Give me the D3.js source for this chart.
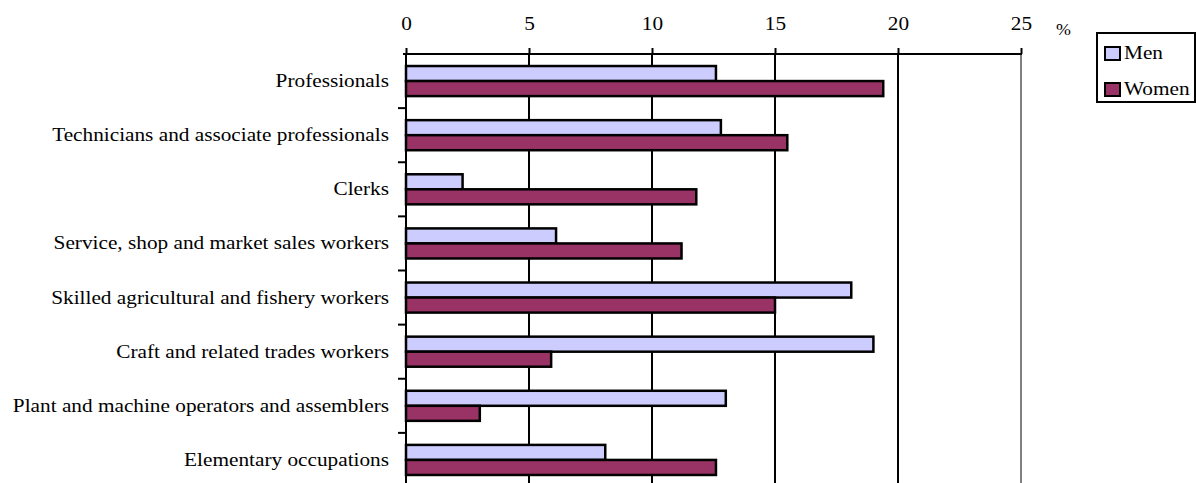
<!DOCTYPE html>
<html>
<head>
<meta charset="utf-8">
<script src="https://cdn.jsdelivr.net/npm/d3@7"></script>
<style>
  html, body { margin: 0; padding: 0; background: #fff; }
  svg { display: block; }
</style>
</head>
<body>
<svg id="chart" width="1196" height="483"></svg>
<script>
const categories = [
  "Professionals",
  "Technicians and associate professionals",
  "Clerks",
  "Service, shop and market sales workers",
  "Skilled agricultural and fishery workers",
  "Craft and related trades workers",
  "Plant and machine operators and assemblers",
  "Elementary occupations"
];
const seriesNames = ["Men", "Women"];
const menValues   = [12.6, 12.8, 2.3, 6.1, 18.1, 19.0, 13.0, 8.1];
const womenValues = [19.4, 15.5, 11.8, 11.2, 15.0, 5.9, 3.0, 12.6];
const xTicks = [0, 5, 10, 15, 20, 25];
const unitLabel = "%";
const colors = { Men: "#CCCCFF", Women: "#993366" };

(function () {
const FONT = '"Liberation Serif"';
const data = categories.map((c, i) => ({ cat: c, Men: menValues[i], Women: womenValues[i] }));

const svg = d3.select("#chart");
const pLeft = 406, pRight = 1021, pTop = 54, pBottom = 487;
const sx = 1.12; // horizontal stretch of the reference text

const x = d3.scaleLinear().domain([0, 25]).range([pLeft, pRight]);
const y0 = d3.scaleBand().domain(categories).range([pTop, pBottom]).padding(0);
const y1 = d3.scaleBand().domain(seriesNames).range([0, y0.bandwidth()]).paddingInner(0).paddingOuter(0.8);

// gridlines
svg.append("g").selectAll("line").data(xTicks.filter(t => t > 0)).join("line")
  .attr("x1", d => x(d)).attr("x2", d => x(d))
  .attr("y1", pTop).attr("y2", pBottom)
  .attr("stroke", d => d === 25 ? "#808080" : "#000")
  .attr("stroke-width", 2);

// top axis
const xAxis = d3.axisTop(x).tickValues(xTicks).tickSize(6).tickSizeOuter(0).tickPadding(0);
const gx = svg.append("g").attr("transform", `translate(0,${pTop})`).call(xAxis);
gx.select(".domain").remove();
gx.selectAll(".tick line").attr("stroke", "#000").attr("stroke-width", 2);
gx.selectAll(".tick text").remove();
gx.selectAll(".tick").append("text")
  .attr("transform", `translate(0,-24) scale(${sx},1)`)
  .attr("text-anchor", "middle")
  .attr("fill", "#000")
  .style("font-family", FONT)
  .style("font-size", "19px")
  .text(d => d);
svg.append("line").attr("x1", pLeft - 3).attr("x2", pRight + 1)
  .attr("y1", pTop).attr("y2", pTop).attr("stroke", "#000").attr("stroke-width", 2);

svg.append("text")
  .attr("transform", `translate(${x(25) + 35},35) scale(${sx},1)`)
  .attr("text-anchor", "start")
  .style("font-family", FONT)
  .style("font-size", "16px")
  .text(unitLabel);

// bars
const groups = svg.append("g").selectAll("g").data(data).join("g")
  .attr("transform", d => `translate(0,${y0(d.cat)})`);
groups.selectAll("rect").data(d => seriesNames.map(s => ({ s, v: d[s] }))).join("rect")
  .attr("x", x(0))
  .attr("y", d => y1(d.s))
  .attr("width", d => x(d.v) - x(0))
  .attr("height", y1.bandwidth())
  .attr("fill", d => colors[d.s])
  .attr("stroke", "#000")
  .attr("stroke-width", 2.5);

// left axis
svg.append("line").attr("x1", pLeft).attr("x2", pLeft).attr("y1", pTop - 1).attr("y2", pBottom)
  .attr("stroke", "#000").attr("stroke-width", 2);
const boundaries = categories.map(c => y0(c)).concat([pBottom]);
svg.append("g").selectAll("line").data(boundaries.slice(1)).join("line")
  .attr("x1", pLeft - 8).attr("x2", pLeft).attr("y1", d => d).attr("y2", d => d)
  .attr("stroke", "#000").attr("stroke-width", 2);

svg.append("g").selectAll("text").data(categories).join("text")
  .attr("transform", d => `translate(389,${y0(d) + y0.bandwidth() / 2 + 6}) scale(${sx},1)`)
  .attr("text-anchor", "end")
  .style("font-family", FONT)
  .style("font-size", "19px")
  .text(d => d);

// legend
const lg = svg.append("g");
lg.append("rect").attr("x", 1097).attr("y", 33).attr("width", 98).attr("height", 69)
  .attr("fill", "#fff").attr("stroke", "#000").attr("stroke-width", 2);
const items = lg.selectAll("g.item").data(seriesNames).join("g").attr("class", "item")
  .attr("transform", (d, i) => `translate(1105,${47 + i * 36})`);
items.append("rect").attr("x", 0).attr("y", 0).attr("width", 15).attr("height", 13)
  .attr("fill", d => colors[d]).attr("stroke", "#000").attr("stroke-width", 2);
items.append("text")
  .attr("transform", `translate(19,12) scale(${sx},1)`)
  .style("font-family", FONT)
  .style("font-size", "19px")
  .text(d => d);
})();
</script>
</body>
</html>
